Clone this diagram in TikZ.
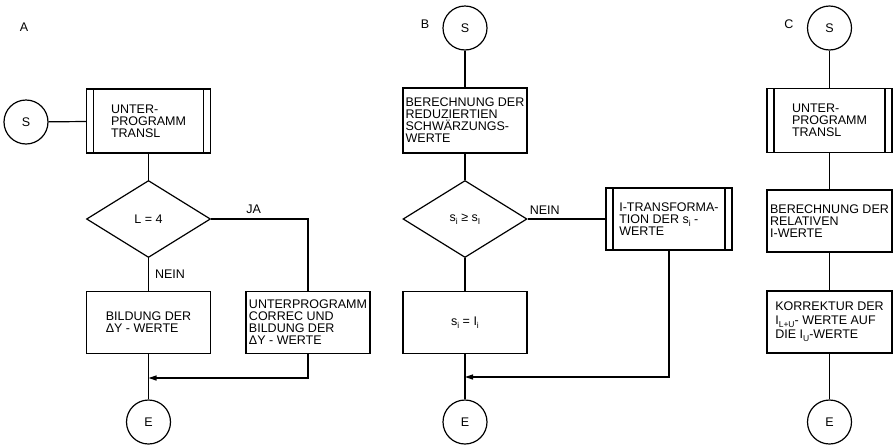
\documentclass[tikz,border=0pt]{standalone}
\usepackage{fontspec}
\setmainfont{Liberation Sans}
\usetikzlibrary{shapes.geometric,arrows.meta}
% lowered small index, as in s_i
\newcommand{\lowidx}[1]{\raisebox{-0.45ex}{\fontsize{8.5}{8.5}\selectfont #1}}
\begin{document}
\begin{tikzpicture}[x=1pt, y=-1pt,
    font=\fontsize{12.5}{12}\selectfont, line width=1.2pt,
    term/.style={circle, draw, minimum size=44pt, inner sep=0pt},
    proc/.style={rectangle, draw, align=left, inner sep=1pt,
      minimum width=124pt, minimum height=62pt},
    subr/.style={proc, path picture={
      \draw ([xshift=7pt]path picture bounding box.north west)
        -- ([xshift=7pt]path picture bounding box.south west);
      \draw ([xshift=-7pt]path picture bounding box.north east)
        -- ([xshift=-7pt]path picture bounding box.south east);}},
    decis/.style={diamond, draw, inner sep=0pt,
      minimum width=124pt, minimum height=77pt},
    flag/.style={inner sep=0pt},
    merge/.style={-{Triangle[length=8pt,width=5pt]}}]
    \useasboundingbox (0,0) rectangle (895,445);
    % Panel A
    \node[flag] (labA) at (24,27) {A};
    \node[term] (sA) at (26,122) {S};
    \node[subr, minimum height=64pt] (tA) at (148.5,121) {UNTER-\\PROGRAMM\\TRANSL};
    \node[decis] (dA) at (148.5,219) {L = 4};
    \node[proc] (bA) at (148.5,322.5) {BILDUNG DER\\ΔY - WERTE};
    \node[proc] (cA) at (308,322.5) {UNTERPROGRAMM\\CORREC UND\\BILDUNG DER\\ΔY - WERTE};
    \node[term] (eA) at (148.5,422) {E};
    \coordinate (mA) at (148.5,378);
    \draw (sA) -- (tA);
    \draw (tA) -- (dA);
    \draw (dA) -- (bA) node[flag, midway, right=6pt] (nA) {NEIN};
    \draw (dA.east) -| (cA.north) node[flag, pos=0.22, above=5pt] (jA) {JA};
    \draw (bA) -- (eA);
    \draw[merge] (cA.south) |- (mA);
    % Panel B
    \node[flag] (labB) at (425,24) {B};
    \node[term] (sB) at (465,28) {S};
    \node[proc, minimum height=65pt] (tB) at (465,120.5) {BERECHNUNG DER\\REDUZIERTIEN\\SCHWÄRZUNGS-\\WERTE};
    \node[decis] (dB) at (465,219) {s\lowidx{i} ≥ s\lowidx{I}};
    \node[subr, minimum width=126pt] (xB) at (669,219) {I-TRANSFORMA-\\TION DER s\lowidx{i} -\\WERTE};
    \node[proc] (bB) at (465,322.5) {s\lowidx{i} = I\lowidx{i}};
    \node[term] (eB) at (465,422) {E};
    \coordinate (mB) at (465,377);
    \draw (sB) -- (tB);
    \draw (tB) -- (dB);
    \draw (dB) -- (bB);
    \draw (dB) -- (xB) node[flag, pos=0.22, above=4pt] (nB) {NEIN};
    \draw (bB) -- (eB);
    \draw[merge] (xB.south) |- (mB);
    % Panel C
    \node[flag] (labC) at (789,24) {C};
    \node[term] (sC) at (829.5,28) {S};
    \node[subr, minimum width=125pt, minimum height=64pt] (tC) at (829.5,120.5) {UNTER-\\PROGRAMM\\TRANSL};
    \node[proc, minimum width=125pt] (rC) at (829.5,221) {BERECHNUNG DER\\RELATIVEN\\I-WERTE};
    \node[proc, minimum width=125pt] (kC) at (829.5,322) {KORREKTUR DER\\[2pt]I\lowidx{L+U}- WERTE AUF\\[2pt]DIE I\lowidx{U}-WERTE};
    \node[term] (eC) at (829.5,422) {E};
    \draw (sC) -- (tC);
    \draw (tC) -- (rC);
    \draw (rC) -- (kC);
    \draw (kC) -- (eC);
\end{tikzpicture}
\end{document}
